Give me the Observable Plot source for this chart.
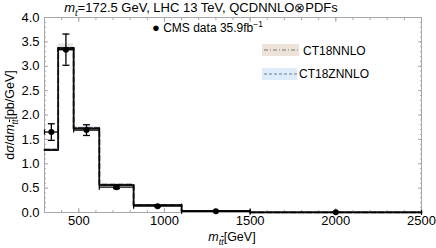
<!DOCTYPE html>
<html>
<head>
<meta charset="utf-8">
<script src="https://cdn.jsdelivr.net/npm/d3@7"></script>
<script src="https://cdn.jsdelivr.net/npm/@observablehq/plot@0.6"></script>
<style>
  body { margin: 0; background: #fff; font-family: "Liberation Sans", Arial, sans-serif; }
  #wrap { position: relative; width: 436px; height: 248px; overflow: hidden; }
  #title { position: absolute; left: 0; top: 0; width: 436px; height: 17px; text-align: center; font-size: 13px; line-height: 16px; padding-right: 34px; box-sizing: border-box; }
  #chart { position: absolute; left: 0; top: 15px; }
  .lbl { position: absolute; font-size: 12.5px; white-space: nowrap; }
  #ylab { left: 10px; top: 115px; transform: translate(-50%, -50%) rotate(-90deg); }
  #xlab { left: 232px; top: 230px; transform: translateX(-50%); }
  .leg { position: absolute; font-size: 12px; white-space: nowrap; line-height: 14px; }
  .sw { position: absolute; }
  sub, sup { font-size: 70%; line-height: 0; }
</style>
</head>
<body>
<div id="wrap">
  <div id="title"><i>m</i><sub><i>t</i></sub>=172.5 GeV, LHC 13 TeV, QCDNNLO⊗PDFs</div>
  <div id="chart"></div>
  <div class="lbl" id="ylab">d<i>σ</i>/d<i>m</i><sub><i>t</i><span style="text-decoration:overline"><i>t</i></span></sub>[pb/GeV]</div>
  <div class="lbl" id="xlab"><i>m</i><sub><i>t</i><span style="text-decoration:overline"><i>t</i></span></sub>[GeV]</div>
  <div class="leg" style="left:152px; top:21px;"><span style="font-size:13px">●</span> CMS data 35.9fb<sup>−1</sup></div>
  <svg class="sw" style="left:262px; top:44px;" width="40" height="40">
    <rect x="0" y="0" width="37" height="12" fill="#eee3d8"></rect>
    <line x1="2" x2="36" y1="6" y2="6" stroke="#777" stroke-width="1" stroke-dasharray="4,2,1,2"></line>
    <rect x="0" y="24" width="35" height="12" fill="#ddebfb"></rect>
    <line x1="2" x2="35" y1="30" y2="30" stroke="#6a7d99" stroke-width="1" stroke-dasharray="3,2"></line>
  </svg>
  <div class="leg" style="left:303px; top:44px;">CT18NNLO</div>
  <div class="leg" style="left:299px; top:67px;">CT18ZNNLO</div>
</div>
<script>
// bin edges (GeV)
const edges = [300, 380, 470, 620, 820, 1100, 1500, 2500];
// theory predictions per bin (pb/GeV)
const ct18 = [1.28, 3.37, 1.72, 0.56, 0.15, 0.032, 0.004];
const ct18Lo = [1.26, 3.31, 1.69, 0.55, 0.145, 0.030, 0.0035];
const ct18Hi = [1.31, 3.46, 1.76, 0.58, 0.16, 0.034, 0.0045];
const ct18z = [1.29, 3.38, 1.73, 0.57, 0.15, 0.033, 0.004];
const ct18zLo = [1.27, 3.30, 1.70, 0.56, 0.145, 0.031, 0.0035];
const ct18zHi = [1.31, 3.43, 1.76, 0.58, 0.155, 0.034, 0.0045];
// CMS data
const cmsX = [340, 425, 545, 720, 960, 1300, 2000];
const cmsY = [1.65, 3.34, 1.69, 0.52, 0.13, 0.025, 0.003];
const cmsErr = [0.17, 0.32, 0.11, 0.03, 0.012, 0.003, 0.0005];
// axis ticks
const xMajor = [500, 1000, 1500, 2000, 2500];
const yMajor = [0, 0.5, 1, 1.5, 2, 2.5, 3, 3.5, 4];

const bins = ct18.map((v, i) => ({
  x1: edges[i], x2: edges[i + 1],
  a: v, aLo: ct18Lo[i], aHi: ct18Hi[i],
  b: ct18z[i], bLo: ct18zLo[i], bHi: ct18zHi[i]
}));
const stepA = edges.map((e, i) => ({x: e, y: ct18[Math.min(i, ct18.length - 1)]}));
const stepB = edges.map((e, i) => ({x: e, y: ct18z[Math.min(i, ct18z.length - 1)]}));
const pts = cmsX.map((x, i) => ({
  x, y: cmsY[i], lo: cmsY[i] - cmsErr[i], hi: cmsY[i] + cmsErr[i],
  x1: edges[i], x2: edges[i + 1]
}));

const hline = {draw(ctx, size) { const w = Math.sqrt(size / Math.PI); ctx.moveTo(-w, 0); ctx.lineTo(w, 0); }};
const vline = {draw(ctx, size) { const w = Math.sqrt(size / Math.PI); ctx.moveTo(0, -w); ctx.lineTo(0, w); }};

const xMinor = d3.range(300, 2501, 100);
const yMinor = d3.range(0, 4.001, 0.1);
const gray = "#a8a8a8";

const chart = Plot.plot({
  width: 436,
  height: 233,
  marginLeft: 44,
  marginRight: 15,
  marginTop: 2,
  marginBottom: 36,
  style: {fontFamily: "'Liberation Sans', Arial, sans-serif", fontSize: "13px", color: "#000", background: "transparent", overflow: "visible"},
  x: {domain: [300, 2500]},
  y: {domain: [0, 4]},
  marks: [
    Plot.rectY(bins, {x1: "x1", x2: "x2", y1: "aLo", y2: "aHi", fill: "#e9dccf", fillOpacity: 0.8}),
    Plot.rectY(bins, {x1: "x1", x2: "x2", y1: "bLo", y2: "bHi", fill: "#d6e6f7", fillOpacity: 0.6}),
    Plot.frame({stroke: gray}),
    // minor ticks
    Plot.axisX({ticks: xMinor, tickSize: -2, tickFormat: () => "", stroke: gray, label: null}),
    Plot.axisX({ticks: xMinor, anchor: "top", tickSize: -2, tickFormat: () => "", stroke: gray, label: null}),
    Plot.axisY({ticks: yMinor, tickSize: -2, tickFormat: () => "", stroke: gray, label: null}),
    Plot.axisY({ticks: yMinor, anchor: "right", tickSize: -2, tickFormat: () => "", stroke: gray, label: null}),
    // major ticks
    Plot.axisX({ticks: xMajor, tickSize: -4, tickFormat: () => "", stroke: gray, label: null}),
    Plot.axisX({ticks: xMajor, anchor: "top", tickSize: -4, tickFormat: () => "", stroke: gray, label: null}),
    Plot.axisY({ticks: yMajor, tickSize: -4, tickFormat: () => "", stroke: gray, label: null}),
    Plot.axisY({ticks: yMajor, anchor: "right", tickSize: -4, tickFormat: () => "", stroke: gray, label: null}),
    // labels
    Plot.axisX({ticks: xMajor, tickSize: 0, tickPadding: 3, tickFormat: d3.format("d"), label: null}),
    Plot.axisY({ticks: yMajor, tickSize: 0, tickPadding: 5, tickFormat: d3.format(".1f"), label: null}),
    // theory lines
    Plot.line(stepA, {x: "x", y: "y", curve: "step-after", stroke: "#151515", strokeWidth: 1.7, strokeDasharray: "5,1,1,1"}),
    Plot.line(stepB, {x: "x", y: "y", curve: "step-after", stroke: "#0d0d14", strokeWidth: 1.7, strokeDasharray: "6,2"}),
    // data
    Plot.ruleY(pts, {x1: "x1", x2: "x2", y: "y", stroke: "#000", strokeWidth: 1.3}),
    Plot.ruleX(pts, {x: "x", y1: "lo", y2: "hi", stroke: "#000", strokeWidth: 1.3}),
    Plot.dot(pts, {x: "x", y: "lo", symbol: hline, r: 3.5, stroke: "#000", strokeWidth: 1.3}),
    Plot.dot(pts, {x: "x", y: "hi", symbol: hline, r: 3.5, stroke: "#000", strokeWidth: 1.3}),
    Plot.dot(pts, {x: "x1", y: "y", symbol: vline, r: 2.5, stroke: "#000", strokeWidth: 1.2}),
    Plot.dot(pts, {x: "x2", y: "y", symbol: vline, r: 2.5, stroke: "#000", strokeWidth: 1.2}),
    Plot.dot(pts, {x: "x", y: "y", r: 3, fill: "#000"})
  ]
});
document.getElementById("chart").appendChild(chart);
</script>
</body>
</html>
